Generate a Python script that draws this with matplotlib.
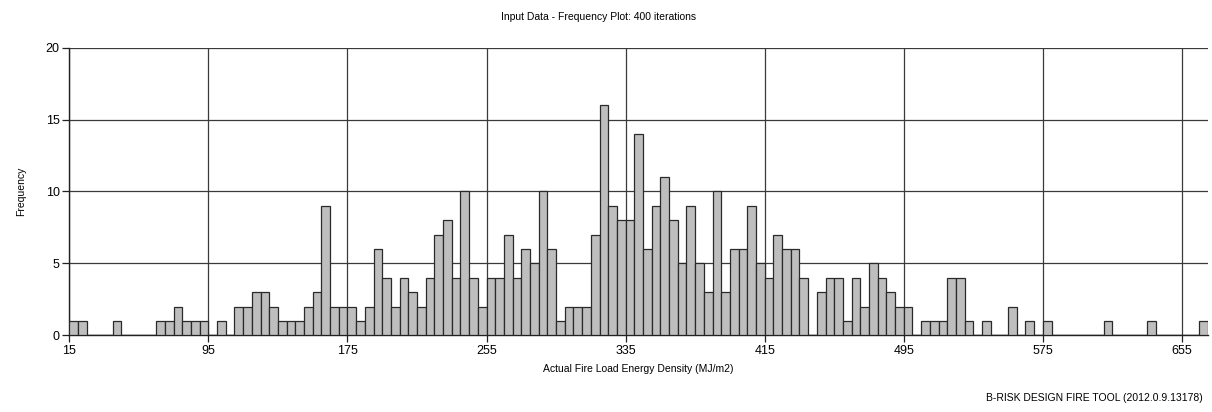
import numpy as np
import matplotlib
matplotlib.use("Agg")
import matplotlib.pyplot as plt

# histogram of 400 iterations, bins of 5 MJ/m2 starting at 15
bin_start = 15
bin_width = 5
counts = [
    1, 1, 0, 0, 0, 1, 0, 0, 0, 0,
    1, 1, 2, 1, 1, 1, 0, 1, 0, 2,
    2, 3, 3, 2, 1, 1, 1, 2, 3, 9,
    2, 2, 2, 1, 2, 6, 4, 2, 4, 3,
    2, 4, 7, 8, 4, 10, 4, 2, 4, 4,
    7, 4, 6, 5, 10, 6, 1, 2, 2, 2,
    7, 16, 9, 8, 8, 14, 6, 9, 11, 8,
    5, 9, 5, 3, 10, 3, 6, 6, 9, 5,
    4, 7, 6, 6, 4, 0, 3, 4, 4, 1,
    4, 2, 5, 4, 3, 2, 2, 0, 1, 1,
    1, 4, 4, 1, 0, 1, 0, 0, 2, 0,
    1, 0, 1, 0, 0, 0, 0, 0, 0, 1,
    0, 0, 0, 0, 1, 0, 0, 0, 0, 0,
    1,
]
x_ticks = [15, 95, 175, 255, 335, 415, 495, 575, 655]
y_ticks = [0, 5, 10, 15, 20]

plt.rcParams['font.family'] = ['Liberation Sans', 'DejaVu Sans']

edges = bin_start + bin_width * np.arange(len(counts) + 1)

fig = plt.figure(figsize=(12.12, 4.12), dpi=100)
ax = fig.add_axes([0.0572, 0.1862, 0.9395, 0.698])

ax.hist(edges[:-1], bins=edges, weights=counts, color='#bebebe',
        edgecolor='#2a2a2a', linewidth=0.9, zorder=3)

ax.set_xlim(edges[0], edges[-1])
ax.set_ylim(0, 20)
ax.set_xticks(x_ticks)
ax.set_yticks(y_ticks)
ax.grid(True, color='#3a3a3a', linewidth=0.9, zorder=1)
ax.set_axisbelow(True)

for side in ['top', 'right']:
    ax.spines[side].set_visible(False)
for side in ['left', 'bottom']:
    ax.spines[side].set_color('#222222')
    ax.spines[side].set_linewidth(1.0)
ax.tick_params(axis='both', labelsize=9, length=5, width=0.9, color='#222222', pad=2)

ax.set_xlabel('Actual Fire Load Energy Density (MJ/m2)', fontsize=7.5, labelpad=5)
ax.set_ylabel('Frequency', fontsize=7.5, labelpad=14)

fig.text(0.494, 0.958, 'Input Data - Frequency Plot: 400 iterations',
         ha='center', va='center', fontsize=7.5)
fig.text(0.992, 0.034, 'B-RISK DESIGN FIRE TOOL (2012.0.9.13178)',
         ha='right', va='center', fontsize=7.5)

fig.savefig('out.png', dpi=100)
